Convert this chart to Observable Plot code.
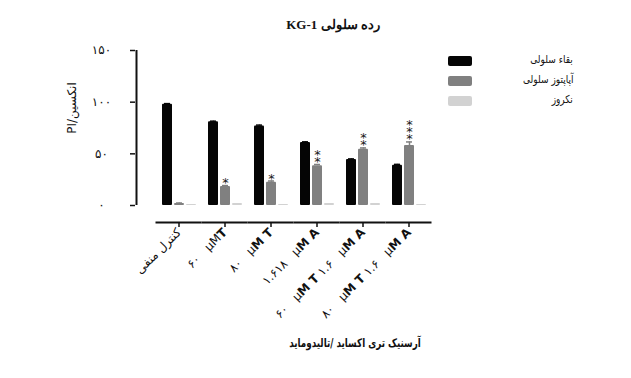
<!DOCTYPE html>
<html>
<head>
<meta charset="utf-8">
<script src="https://cdn.jsdelivr.net/npm/d3@7"></script>
<script src="https://cdn.jsdelivr.net/npm/@observablehq/plot@0.6"></script>
<style>
  html, body { margin: 0; padding: 0; background: #fff; }
  #wrap { position: relative; width: 631px; height: 378px; overflow: hidden; font-family: "DejaVu Sans", sans-serif; color: #111; }
  #chart { position: absolute; left: 0; top: 0; }
  #title { position: absolute; left: 233px; width: 200px; top: 17px; text-align: center; direction: rtl;
           font: bold 13px "Liberation Serif", "DejaVu Serif", serif; }
  #ylabel { position: absolute; left: 22px; top: 101px; width: 100px; text-align: center; direction: rtl;
            transform: rotate(-90deg); font-size: 12px; }
  #xlabel { position: absolute; left: 255px; width: 200px; top: 336px; text-align: center; direction: rtl;
            font-size: 12px; font-weight: bold; white-space: nowrap; transform: scaleX(0.73); transform-origin: 100px 0; }
  #legend { position: absolute; left: 448px; top: 55px; }
  .lg-row { position: relative; height: 20px; width: 130px; }
  .lg-sw { position: absolute; left: 0; top: 1px; width: 24px; height: 10px; border-radius: 2px; }
  .lg-text { position: absolute; right: 5px; top: -2px; direction: rtl; font-size: 11px; white-space: nowrap;
             transform: scaleX(0.82); transform-origin: right center; }
</style>
</head>
<body>
<div id="wrap">
  <div id="chart"></div>
  <div id="title"></div>
  <div id="ylabel"></div>
  <div id="xlabel"></div>
  <div id="legend"></div>
</div>
<script>
// ---- data ----
const titleText = "رده سلولی KG-1";
const yLabelText = "انکسین/PI";
const xLabelText = "آرسنیک تری اکساید /تالیدوماید";
const groups = [
  "کنترل منفی",
  "۶۰\u00A0\u00A0\u00A0µMT",
  "۸۰\u00A0\u00A0\u00A0µM T",
  "۱.۶۱۸\u00A0\u00A0\u00A0µM A",
  "۶۰\u00A0\u00A0\u00A0µM T ۱.۶\u00A0\u00A0\u00A0µM A",
  "۸۰\u00A0\u00A0\u00A0µM T ۱.۶\u00A0\u00A0\u00A0µM A"
];
const series = ["بقاء سلولی", "آپاپتوز سلولی", "نکروز"];
const colors = ["#050505", "#808080", "#d2d2d2"];
const viability = [98, 81, 77, 61, 44.5, 39];
const apoptosis = [2, 18.5, 22.5, 38.5, 54.5, 58];
const necrosis = [1, 2, 1, 2, 2, 1];
const viabilityErr = [0.6, 0.6, 0.8, 0.6, 0.6, 0.8];
const apoptosisErr = [0.4, 0.8, 1.2, 1.2, 1.2, 3.5];
const necrosisErr = [0, 0, 0, 0, 0, 0];
const stars = ["", "*", "*", "**", "**", "***"];
const yTicks = [0, 50, 100, 150];

// ---- build table ----
const values = [viability, apoptosis, necrosis];
const errs = [viabilityErr, apoptosisErr, necrosisErr];
const rows = groups.flatMap((g, i) => series.map((s, j) => ({group: g, series: s, value: values[j][i], err: errs[j][i]})));
const errRows = rows.filter(d => d.err > 0);
const starRows = groups.map((g, i) => ({group: g, series: series[1], top: apoptosis[i] + apoptosisErr[i], star: stars[i].split("").join("\n")})).filter(d => d.star);
const fa = v => String(v).replace(/\d/g, c => "۰۱۲۳۴۵۶۷۸۹"[+c]);

const plot = Plot.plot({
  width: 631,
  height: 378,
  marginLeft: 156,
  marginRight: 199,
  marginTop: 50,
  marginBottom: 173,
  style: {fontFamily: "DejaVu Sans, sans-serif", fontSize: "11px", color: "#111", background: "transparent"},
  fx: {domain: groups, paddingInner: 0.15, paddingOuter: 0.075, label: null},
  x: {domain: series, padding: 0.2, axis: null},
  y: {domain: [0, 150], axis: null},
  color: {domain: series, range: colors},
  marks: [
    Plot.barY(rows, {fx: "group", x: "series", y: "value", fill: "series", rx: 1}),
    Plot.ruleX(errRows, {fx: "group", x: "series", y1: "value", y2: d => d.value + d.err, stroke: "series", strokeWidth: 1.5}),
    Plot.tickY(errRows, {fx: "group", x: "series", y: d => d.value + d.err, stroke: "series", strokeWidth: 1.5, inset: 2}),
    Plot.text(starRows, {fx: "group", x: "series", y: "top", text: "star", lineAnchor: "bottom", lineHeight: 0.55, fontSize: 13, dy: 1.5, fill: "#1a1a1a"}),
    // x axis line (offset below the baseline)
    Plot.ruleY([0], {dy: 17, insetLeft: -3.5, insetRight: -3.5, stroke: "#111", strokeWidth: 2}),
    // y axis line, in the first facet only
    Plot.ruleX([groups[0]], {fx: d => d, x: () => series[0], y1: 0, y2: 150, dx: -31, stroke: "#111", strokeWidth: 2}),
    Plot.axisY({ticks: yTicks, tickFormat: fa, tickSize: 5, tickPadding: 29, textAnchor: "middle", dx: -24, fontSize: 12, strokeWidth: 1.5}),
    Plot.axisFx({anchor: "bottom", tickRotate: -45, tickSize: 5, tickPadding: 3, dy: 17, fontSize: 12, label: null, strokeWidth: 1.5})
  ]
});
document.getElementById("chart").appendChild(plot);

// bold letters T / A (and M before them) in the tick labels, as in the original
d3.select(plot).selectAll("g[aria-label='fx-axis tick label'] text").each(function() {
  const t = this.textContent;
  if (!/µM/.test(t)) return;
  const sel = d3.select(this);
  sel.text(null);
  t.split(/(µM\s?[TA])/).forEach(part => {
    if (!part) return;
    const m = part.match(/^µM(\s?)([TA])$/);
    if (m) {
      sel.append("tspan").text("µ");
      sel.append("tspan").attr("font-weight", m[1] ? "bold" : null).text("M" + m[1]);
      sel.append("tspan").attr("font-weight", "bold").text(m[2]);
    } else sel.append("tspan").text(part);
  });
});

// ---- texts ----
document.getElementById("title").textContent = titleText;
document.getElementById("ylabel").textContent = yLabelText;
document.getElementById("xlabel").textContent = xLabelText;
const lg = document.getElementById("legend");
series.forEach((s, j) => {
  const row = document.createElement("div"); row.className = "lg-row";
  const sw = document.createElement("div"); sw.className = "lg-sw"; sw.style.background = colors[j];
  const tx = document.createElement("div"); tx.className = "lg-text"; tx.textContent = s;
  row.appendChild(sw); row.appendChild(tx); lg.appendChild(row);
});
</script>
</body>
</html>
